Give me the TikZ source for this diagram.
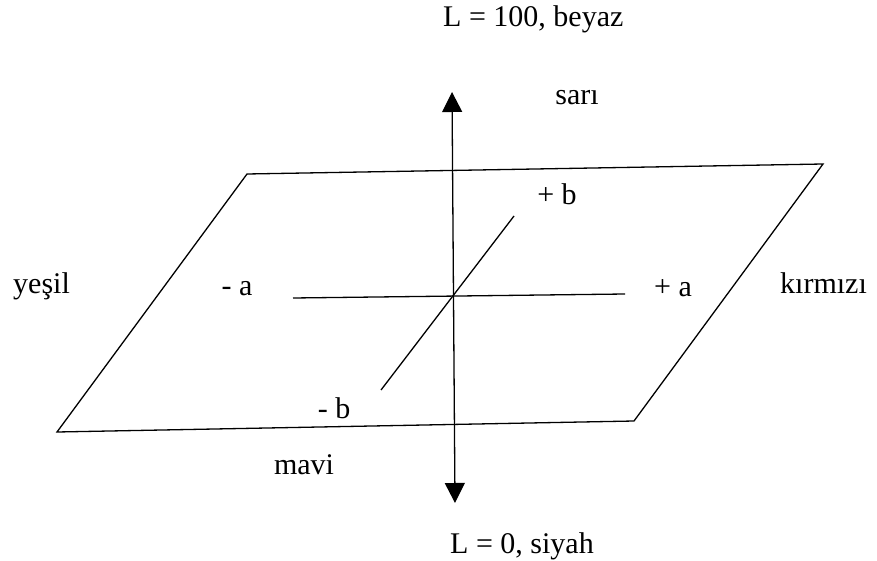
\documentclass[tikz,border=0pt]{standalone}
\usepackage{fontspec}
\setmainfont{Liberation Serif}
\usetikzlibrary{arrows.meta}
\begin{document}
\begin{tikzpicture}[x=1pt,y=-1pt,
  lbl/.style={inner sep=0pt,font=\fontsize{30}{36}\selectfont},
  ln/.style={line width=1.3pt},
  ax/.style={line width=1.3pt,{Triangle[length=20pt,width=20pt]}-{Triangle[length=20pt,width=20pt]}}]
\useasboundingbox (0,0) rectangle (877,561);
\coordinate (tl) at (247,174);
\coordinate (tr) at (823,164);
\coordinate (br) at (634,421);
\coordinate (bl) at (57,432);
\draw[ln,line join=miter] (tl) -- (tr) -- (br) -- (bl) -- cycle;
\coordinate (top) at (452,92);
\coordinate (bot) at (455,503);
\draw[ax] (bot) -- (top);
\coordinate (am) at (293,298);
\coordinate (ap) at (625,294);
\draw[ln] (am) -- (ap);
\coordinate (bm) at (381,390);
\coordinate (bp) at (514,216);
\draw[ln] (bm) -- (bp);
\node[lbl,anchor=base west] (white) at (443,27) {L = 100, beyaz};
\node[lbl] (sari) at (577,98) {sarı};
\node[lbl] (pb) at (557,194) {+ b};
\node[lbl,anchor=base west] (yesil) at (13,293) {yeşil};
\node[lbl] (ma) at (237,289) {- a};
\node[lbl] (pa) at (673,288) {+ a};
\node[lbl,anchor=base west] (kirmizi) at (780,293) {kırmızı};
\node[lbl] (mb) at (334,408) {- b};
\node[lbl] (mavi) at (304,465) {mavi};
\node[lbl,anchor=base west] (black) at (450,553) {L = 0, siyah};
\end{tikzpicture}
\end{document}
